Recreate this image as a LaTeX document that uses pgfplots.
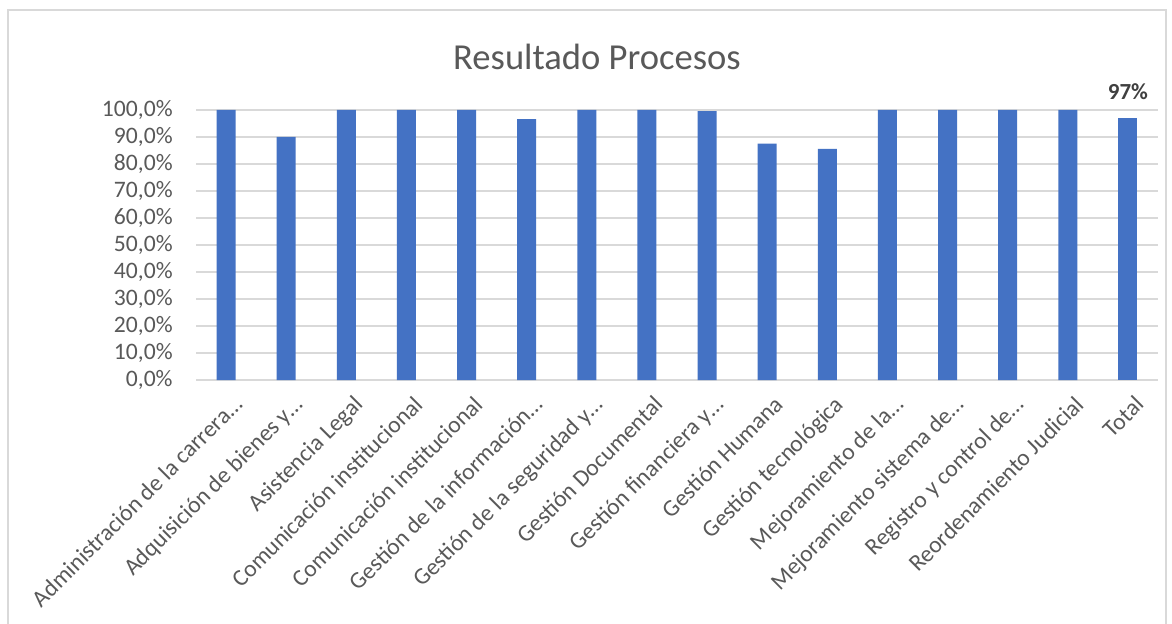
\documentclass[border=0pt]{standalone}
\usepackage{pgfplots}
\pgfplotsset{compat=1.18}
\usepackage{fontspec}
\setmainfont{Carlito}
\definecolor{barc}{HTML}{4472C4}
\definecolor{txt}{HTML}{595959}
\definecolor{gridc}{HTML}{D9D9D9}
\definecolor{lbl}{HTML}{404040}
\begin{document}
\begin{tikzpicture}
\useasboundingbox (0pt,0pt) rectangle (586pt,-312pt);
\fill[white] (0pt,0pt) rectangle (586pt,-312pt);
\draw[gridc, line width=0.75pt] (4pt,-5pt) rectangle (583pt,-330pt);
\node[txt, font=\fontsize{18.3}{22}\selectfont] at (298.5pt,-28.5pt) {Resultado Procesos};
\begin{axis}[
  at={(98pt,-190pt)}, anchor=south west,
  scale only axis, width=481pt, height=135pt,
  xmin=-0.5, xmax=15.5, ymin=0, ymax=100,
  ytick={0,10,...,100},
  xtick={0,...,15},
  xticklabels={Administración de la carrera…, Adquisición de bienes y…, Asistencia Legal, Comunicación institucional, Comunicación institucional, Gestión de la información…, Gestión de la seguridad y…, Gestión Documental, Gestión financiera y…, Gestión Humana, Gestión tecnológica, Mejoramiento de la…, Mejoramiento sistema de…, Registro y control de…, Reordenamiento Judicial, Total},
  ymajorgrids, grid style={gridc, line width=0.75pt},
  axis line style={draw=none},
  major tick length=0pt,
  ticklabel style={txt, font=\fontsize{11.8}{14}\selectfont},
  yticklabel={\pgfmathprintnumber[fixed, fixed zerofill, precision=1, use comma, assume math mode=true]{\tick}\%},
  yticklabel style={anchor=east, inner sep=0pt, xshift=-11.5pt},
  xticklabel style={anchor=north east, inner sep=0pt, yshift=-7pt, xshift=3pt, rotate=45},
  clip=false,
]
\addplot[ybar, bar width=9.5pt, bar shift=0pt, fill=barc, draw=none] coordinates {
(0,100) (1,90.0) (2,100) (3,100) (4,100) (5,96.6) (6,100) (7,100) (8,99.6) (9,87.5) (10,85.6) (11,100) (12,100) (13,100) (14,100)};
\addplot[ybar, bar width=9.5pt, bar shift=0pt, fill=barc, draw=none,
  nodes near coords={\textbf{97\%}},
  nodes near coords style={lbl, font=\fontsize{11.5}{13}\selectfont, anchor=base, inner sep=0pt, yshift=9pt}] coordinates {(15,97.1)};
\end{axis}
\end{tikzpicture}
\end{document}
